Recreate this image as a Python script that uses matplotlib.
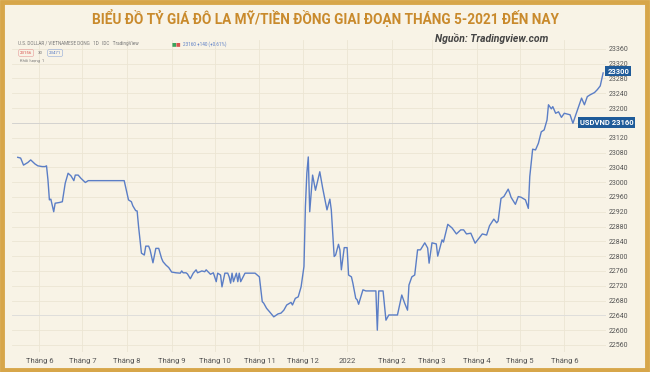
import matplotlib
matplotlib.use('Agg')
import matplotlib.pyplot as plt
from matplotlib.patches import Rectangle
import pandas as pd

# daily USD/VND close
dates = [
    '2021-05-17', '2021-05-19', '2021-05-21', '2021-05-24', '2021-05-26', '2021-05-29', '2021-05-31',
    '2021-06-03', '2021-06-05', '2021-06-06', '2021-06-07', '2021-06-08', '2021-06-09', '2021-06-11',
    '2021-06-12', '2021-06-15', '2021-06-17', '2021-06-19', '2021-06-21', '2021-06-23', '2021-06-25',
    '2021-06-26', '2021-06-28', '2021-06-30', '2021-07-03', '2021-07-05', '2021-07-30',
    '2021-08-02', '2021-08-04', '2021-08-05', '2021-08-07', '2021-08-08', '2021-08-09', '2021-08-11',
    '2021-08-13', '2021-08-14', '2021-08-16', '2021-08-17', '2021-08-19', '2021-08-21', '2021-08-23',
    '2021-08-25', '2021-08-26', '2021-08-28', '2021-08-30',
    '2021-09-01', '2021-09-04', '2021-09-07', '2021-09-08', '2021-09-09', '2021-09-11', '2021-09-12',
    '2021-09-14', '2021-09-16', '2021-09-18', '2021-09-19', '2021-09-22', '2021-09-24', '2021-09-25',
    '2021-09-28', '2021-09-30',
    '2021-10-02', '2021-10-03', '2021-10-05', '2021-10-06', '2021-10-08', '2021-10-10', '2021-10-11',
    '2021-10-12', '2021-10-13', '2021-10-14', '2021-10-16', '2021-10-17', '2021-10-18', '2021-10-19',
    '2021-10-22', '2021-10-29',
    '2021-11-01', '2021-11-03', '2021-11-04', '2021-11-06', '2021-11-08', '2021-11-11', '2021-11-14',
    '2021-11-16', '2021-11-18', '2021-11-20', '2021-11-23', '2021-11-24', '2021-11-26', '2021-11-28',
    '2021-11-30',
    '2021-12-02', '2021-12-03', '2021-12-04', '2021-12-05', '2021-12-06', '2021-12-08', '2021-12-10',
    '2021-12-13', '2021-12-15', '2021-12-18', '2021-12-20', '2021-12-21', '2021-12-23', '2021-12-24',
    '2021-12-26', '2021-12-27', '2021-12-28', '2021-12-30',
    '2022-01-01', '2022-01-02', '2022-01-04', '2022-01-05', '2022-01-07', '2022-01-08', '2022-01-09',
    '2022-01-12', '2022-01-14', '2022-01-19', '2022-01-21', '2022-01-22', '2022-01-23', '2022-01-26',
    '2022-01-28', '2022-01-30',
    '2022-02-05', '2022-02-08', '2022-02-10', '2022-02-12', '2022-02-13', '2022-02-15', '2022-02-17',
    '2022-02-19', '2022-02-21', '2022-02-24', '2022-02-26', '2022-02-27',
    '2022-03-01', '2022-03-04', '2022-03-05', '2022-03-08', '2022-03-09', '2022-03-12', '2022-03-15',
    '2022-03-18', '2022-03-21', '2022-03-23', '2022-03-25', '2022-03-28', '2022-03-31',
    '2022-04-05', '2022-04-08', '2022-04-10', '2022-04-13', '2022-04-15', '2022-04-16', '2022-04-18',
    '2022-04-20', '2022-04-23', '2022-04-24', '2022-04-25', '2022-04-28', '2022-04-30',
    '2022-05-02', '2022-05-05', '2022-05-07', '2022-05-08', '2022-05-10', '2022-05-12', '2022-05-14',
    '2022-05-16', '2022-05-18', '2022-05-20', '2022-05-21', '2022-05-23', '2022-05-24', '2022-05-26',
    '2022-05-28', '2022-05-30',
    '2022-06-01', '2022-06-03', '2022-06-05', '2022-06-07', '2022-06-09', '2022-06-13', '2022-06-15',
    '2022-06-17', '2022-06-19', '2022-06-22', '2022-06-24', '2022-06-26', '2022-06-28',
]
rates = [
    23067, 23065, 23046, 23053, 23060, 23049, 23044,
    23042, 23042, 23044, 23006, 22952, 22954, 22920,
    22943, 22945, 22947, 22997, 23024, 23017, 23004,
    23019, 23019, 23010, 22999, 23004, 23004,
    22952, 22947, 22936, 22923, 22922, 22880, 22808,
    22803, 22827, 22827, 22817, 22782, 22821, 22821,
    22794, 22785, 22776, 22769,
    22757, 22755, 22754, 22760, 22755, 22755, 22752,
    22739, 22754, 22763, 22755, 22760, 22758, 22763,
    22751, 22755,
    22731, 22754, 22749, 22717, 22754, 22754, 22744,
    22727, 22754, 22731, 22754, 22731, 22754, 22731,
    22754, 22754,
    22744, 22677, 22673, 22659, 22650, 22636, 22644,
    22646, 22654, 22668, 22675, 22668, 22686, 22690,
    22717,
    22772, 22934, 23024, 23068, 22920, 23019, 22978,
    23028, 22984, 22925, 22954, 22925, 22799, 22803,
    22832, 22817, 22763, 22823,
    22823, 22749, 22744, 22727, 22686, 22682, 22670,
    22709, 22706, 22706, 22706, 22600, 22706, 22706,
    22627, 22641,
    22641, 22695, 22673, 22654, 22722, 22744, 22749,
    22817, 22817, 22836, 22822, 22781,
    22836, 22833, 22800, 22844, 22838, 22886, 22876,
    22860, 22871, 22871, 22860, 22862, 22835,
    22860, 22857, 22882, 22900, 22890, 22895, 22956,
    22961, 22981, 22971, 22959, 22940, 22961,
    22959, 22952, 22929, 23015, 23089, 23087, 23105,
    23136, 23141, 23168, 23209, 23198, 23204, 23186,
    23190, 23175,
    23186, 23184, 23182, 23159, 23182, 23227, 23209,
    23231, 23236, 23242, 23250, 23260, 23295,
]

month_starts = ['2021-06-01', '2021-07-01', '2021-08-01', '2021-09-01', '2021-10-01', '2021-11-01',
                '2021-12-01', '2022-01-01', '2022-02-01', '2022-03-01', '2022-04-01', '2022-05-01',
                '2022-06-01']
month_labels = ['Tháng 6', 'Tháng 7', 'Tháng 8', 'Tháng 9', 'Tháng 10', 'Tháng 11', 'Tháng 12',
                '2022', 'Tháng 2', 'Tháng 3', 'Tháng 4', 'Tháng 5', 'Tháng 6']
y_ticks = list(range(22560, 23361, 40))
last_price = 23300
line_price = 23160

title = 'BIỂU ĐỒ TỶ GIÁ ĐÔ LA MỸ/TIỀN ĐỒNG GIAI ĐOẠN THÁNG 5-2021 ĐẾN NAY'
source = 'Nguồn: Tradingview.com'

BG = '#f8f3e6'
GRID = '#ece5d3'
LINE = '#5b7ec6'
GOLD = '#d7a64a'
TXT = '#555555'

plt.rcParams['font.family'] = ['Roboto', 'DejaVu Sans']

x = pd.to_datetime(dates)
ticks = pd.to_datetime(month_starts)

fig = plt.figure(figsize=(6.5, 3.72), dpi=100, facecolor=BG)
ax = fig.add_axes([12 / 650, 1 - 352 / 372, 594 / 650, 312 / 372])
ax.set_facecolor(BG)

ax.plot(x, rates, color=LINE, linewidth=1.0)
ax.axhline(line_price, color='#d0d0d0', linewidth=0.6, zorder=1)
ax.axhline(22640, color='#dddddd', linewidth=0.6, zorder=1)

ax.set_xlim(pd.Timestamp('2021-05-13'), pd.Timestamp('2022-06-30'))
ax.set_ylim(22541, 23384)
ax.set_xticks(ticks)
ax.set_xticklabels(month_labels, fontsize=5.5, color=TXT)
ax.yaxis.tick_right()
ax.set_yticks(y_ticks)
# the 23160 level is covered by the USDVND tag, as on TradingView
ax.set_yticklabels(['' if v == line_price else str(v) for v in y_ticks], fontsize=5, color=TXT)
ax.tick_params(length=0, pad=2)
ax.tick_params(axis='x', pad=4)
ax.grid(True, color=GRID, linewidth=0.6)
ax.set_axisbelow(True)
for s in ax.spines.values():
    s.set_visible(False)

# price tags on the right scale
box = dict(boxstyle='square,pad=0.25', facecolor='#1f5b99', edgecolor='none')
ax.annotate(str(last_price), xy=(1.0, last_price), xycoords=('axes fraction', 'data'),
            xytext=(1, 0), textcoords='offset points', fontsize=5.5, color='white',
            fontweight='bold', va='center', ha='left', bbox=box)
ax.annotate('USDVND ' + str(line_price), xy=(1.0, line_price), xycoords=('axes fraction', 'data'),
            xytext=(-19, 0), textcoords='offset points', fontsize=5.5, color='white',
            fontweight='bold', va='center', ha='left', bbox=box)

# header texts
fig.text(0.5, 1 - 18 / 372, title, ha='center', va='center', fontsize=9.8,
         fontweight='bold', color='#c98a2c')
fig.text(548 / 650, 1 - 38 / 372, source, ha='right', va='center', fontsize=7.5,
         style='italic', fontweight='bold', color='#444444')
fig.text(18 / 650, 1 - 44 / 372, 'U.S. DOLLAR / VIETNAMESE DONG   1D   IDC   TradingView',
         ha='left', va='center', fontsize=3.3, color='#777777')
fig.text(183 / 650, 1 - 44 / 372, '23160 +140 (+0.61%)', ha='left', va='center',
         fontsize=3.3, color='#5b7ec6')
fig.text(20 / 650, 1 - 53 / 372, '23156', ha='left', va='center', fontsize=3.2, color='#d9534f',
         bbox=dict(boxstyle='round,pad=0.3', facecolor='none', edgecolor='#e69a98', linewidth=0.4))
fig.text(38 / 650, 1 - 53 / 372, '30', ha='left', va='center', fontsize=3.2, color='#777777')
fig.text(49 / 650, 1 - 53 / 372, '23471', ha='left', va='center', fontsize=3.2, color='#5b7ec6',
         bbox=dict(boxstyle='round,pad=0.3', facecolor='none', edgecolor='#8fa8d8', linewidth=0.4))
fig.text(20 / 650, 1 - 61 / 372, 'Khối lượng  1', ha='left', va='center', fontsize=3.0, color='#777777')
fig.text(172 / 650, 1 - 44 / 372, '■', ha='left', va='center', fontsize=3.5, color='#3aa35b')
fig.text(176 / 650, 1 - 44 / 372, '■', ha='left', va='center', fontsize=3.5, color='#d9534f')

# golden frame
fig.patches.append(Rectangle((0.003, 0.005), 0.992, 0.99, transform=fig.transFigure,
                             fill=False, edgecolor=GOLD, linewidth=3.5))

fig.savefig('out.png', dpi=100, facecolor=BG)
